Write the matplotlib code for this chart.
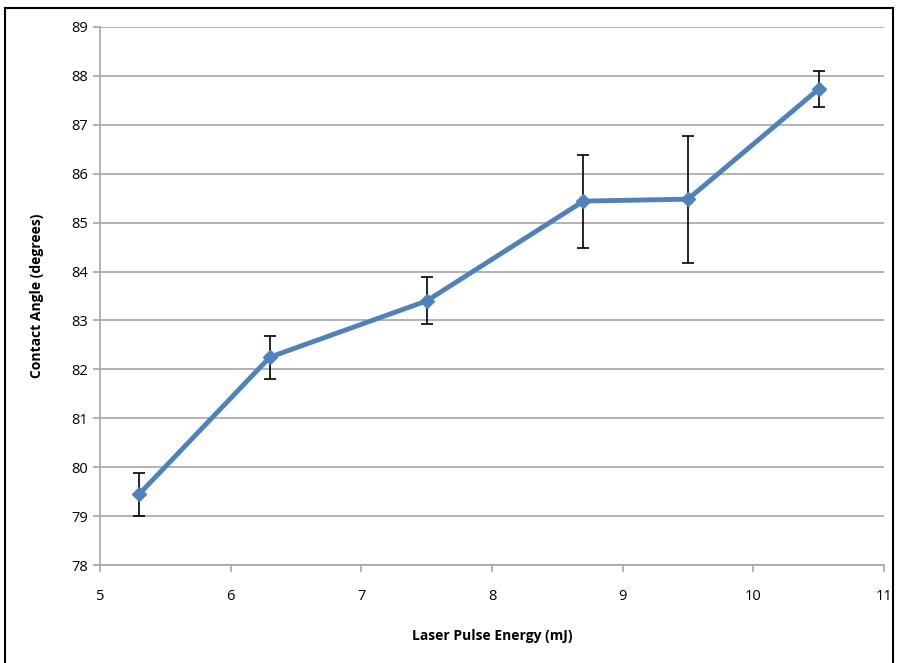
import matplotlib.pyplot as plt
from matplotlib.lines import Line2D

###
### Data
###
energy      = [5.3, 6.3, 7.5, 8.7, 9.5, 10.5]
angle       = [79.45, 82.25, 83.4, 85.44, 85.48, 87.73]
angle_err   = [0.44, 0.44, 0.48, 0.95, 1.30, 0.37]
xticks      = [5, 6, 7, 8, 9, 10, 11]
yticks      = [78, 79, 80, 81, 82, 83, 84, 85, 86, 87, 88, 89]

plt.rcParams['font.family'] = ['Open Sans', 'DejaVu Sans']

fig = plt.figure(figsize=(8.98, 6.63), dpi=100)
ax = fig.add_axes([0.1114, 0.1478, 0.873, 0.8115])

###
### Plot
###
ax.errorbar(energy, angle, yerr=angle_err,
            fmt='none', ecolor='black', elinewidth=1.2,
            capsize=4, capthick=1.2, zorder=3)
ax.plot(energy, angle, color='#4F81BD', lw=3.5,
        marker='D', markersize=7, zorder=4)

ax.set_xlim(5, 11)
ax.set_ylim(78, 89)
ax.set_xticks(xticks)
ax.set_yticks(yticks)
ax.grid(axis='y', color='#A6A6A6', lw=1.2)
ax.set_axisbelow(True)

for s in ['top', 'right']:
    ax.spines[s].set_visible(False)
for s in ['left', 'bottom']:
    ax.spines[s].set_color('#A6A6A6')
    ax.spines[s].set_linewidth(1.2)
ax.tick_params(axis='both', color='#A6A6A6', width=1.2, length=5,
               labelsize=10.5, labelcolor='black')
ax.tick_params(axis='x', pad=12)

ax.set_xlabel('Laser Pulse Energy (mJ)', fontsize=10, fontweight='bold', labelpad=18)
ax.set_ylabel('Contact Angle (degrees)', fontsize=10, fontweight='bold', labelpad=20)

###
### Outer frame
###
fl, fr, ft = 5/898, 893/898, 1 - 8/663
for xs, ys in [([fl, fl], [0, ft]), ([fl, fr], [ft, ft]), ([fr, fr], [0, ft])]:
    fig.add_artist(Line2D(xs, ys, color='black', lw=1.5, transform=fig.transFigure))

fig.savefig('out.png', dpi=100)
